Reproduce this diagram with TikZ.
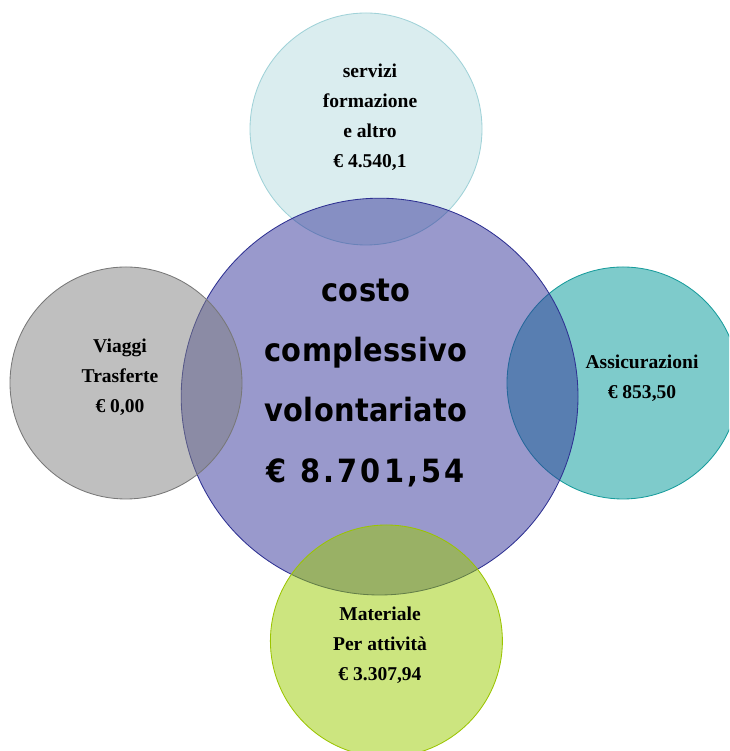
\documentclass[tikz,border=0pt]{standalone}
\usepackage{fontspec}
\setmainfont{Liberation Serif}
\newfontfamily\bigsans[LetterSpace=1]{DejaVu Sans Condensed}
\newfontfamily\bigdigits[LetterSpace=10]{DejaVu Sans Condensed}
\usepackage{tikz}
\definecolor{topfill}{RGB}{218,237,239}
\definecolor{topline}{RGB}{160,210,216}
\definecolor{rightfill}{RGB}{126,203,203}
\definecolor{rightline}{RGB}{24,156,156}
\definecolor{mainfill}{RGB}{51,51,153}
\definecolor{mainline}{RGB}{46,49,146}
\definecolor{leftfill}{RGB}{127,127,127}
\definecolor{leftline}{RGB}{120,120,120}
\definecolor{botfill}{RGB}{153,203,0}
\definecolor{botline}{RGB}{155,196,0}

\begin{document}
\begin{tikzpicture}[line width=0.6pt,
  sat/.style={align=center,font=\bfseries\fontsize{13.9}{21.3}\selectfont},
  big/.style={align=center,font=\bigsans\bfseries\fontsize{22.8}{42.7}\selectfont}]
  \useasboundingbox (0,0) rectangle (18.225,18.775);
  \begin{scope}
  \clip (0,0) rectangle (18.225,18.775);
  % cerchi dietro
  \draw[topline,fill=topfill] (9.15,15.55) circle (2.9);
  \draw[rightline,fill=rightfill] (15.575,9.2) circle (2.9);
  % cerchio centrale
  \draw[mainline,fill=mainfill,fill opacity=0.5] (9.49,8.86) circle (4.96);
  % cerchi davanti
  \draw[leftline,fill=leftfill,fill opacity=0.5] (3.15,9.2) circle (2.9);
  \draw[botline,fill=botfill,fill opacity=0.5] (9.66,2.75) circle (2.9);
  \end{scope}

  % testi
  \node[big] (costo) at (9.15,9.2) {costo\\complessivo\\volontariato\\{\bigdigits\bfseries € 8.701,54}};
  \node[sat] (servizi) at (9.25,15.85) {servizi\\formazione\\e altro\\€ 4.540,1};
  \node[sat] (viaggi) at (3.0,9.35) {Viaggi\\Trasferte\\€ 0,00};
  \node[sat] (assic) at (16.05,9.325) {Assicurazioni\\€ 853,50};
  \node[sat] (materiale) at (9.5,2.65) {Materiale\\Per attività\\€ 3.307,94};
\end{tikzpicture}
\end{document}
